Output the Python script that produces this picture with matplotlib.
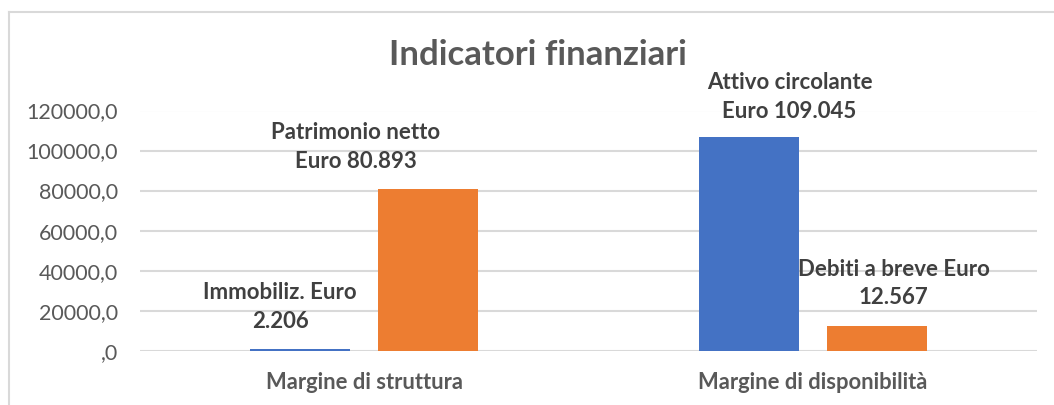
import matplotlib
matplotlib.use('Agg')
import matplotlib.pyplot as plt
from matplotlib.lines import Line2D
from matplotlib.ticker import FuncFormatter
import numpy as np

plt.rcParams['font.family'] = ['Lato', 'DejaVu Sans']

# data
categories = ['Margine di struttura', 'Margine di disponibilità']
serie_blu = [900, 106600]
serie_arancio = [80893, 12567]
etichette_blu = ['Immobiliz. Euro\n2.206', 'Attivo circolante\nEuro 109.045']
etichette_arancio = ['Patrimonio netto\nEuro 80.893', 'Debiti a breve Euro\n12.567']
yticks = [0, 20000, 40000, 60000, 80000, 100000, 120000]

# label offsets (pixels) from the top of each bar
off_blu = [(-20, 42), (41, 40)]
off_arancio = [(-73, 42), (17, 42)]

blu = '#4472C4'
arancio = '#ED7D31'
grigio = '#595959'
scuro = '#404040'

fig = plt.figure(figsize=(10.54, 4.05), dpi=100)
ax = fig.add_axes([140 / 1054, 1 - 350.7 / 405, 897 / 1054, 240.2 / 405])

x = np.arange(len(categories))
w = 0.223
d = 0.143
b1 = ax.bar(x - d, serie_blu, w, color=blu, zorder=2)
b2 = ax.bar(x + d, serie_arancio, w, color=arancio, zorder=2)

for bars, labels, offs in [(b1, etichette_blu, off_blu), (b2, etichette_arancio, off_arancio)]:
    for bar, lab, off in zip(bars, labels, offs):
        ax.annotate(lab, xy=(bar.get_x() + bar.get_width() / 2, bar.get_height()),
                    xytext=off, textcoords='offset pixels', ha='center', va='center',
                    multialignment='center', fontsize=16, fontweight='bold', color=scuro,
                    linespacing=1.45, annotation_clip=False)

ax.set_xlim(-0.5, 1.5)
ax.set_ylim(0, 120000)
ax.set_yticks(yticks)
ax.yaxis.set_major_formatter(FuncFormatter(lambda v, p: ',0' if v == 0 else '%d,0' % v))
ax.set_xticks(x)
ax.set_xticklabels(categories, fontsize=15.8, fontweight='bold', color=grigio)
ax.tick_params(axis='y', length=0, pad=16, labelsize=15.5, labelcolor=grigio)
ax.tick_params(axis='x', length=0, pad=15)
ax.grid(axis='y', color='#D9D9D9', linewidth=1.5, zorder=0)
for s in ax.spines.values():
    s.set_visible(False)

fig.text(538 / 1054, 1 - 55 / 405, 'Indicatori finanziari', ha='center', va='center',
         fontsize=25, fontweight='bold', color=grigio)

# chart area border
fig.add_artist(Line2D([9 / 1054, 1], [1 - 12 / 405, 1 - 12 / 405], color='#D9D9D9', linewidth=1.5))
fig.add_artist(Line2D([9 / 1054, 9 / 1054], [0, 1 - 12 / 405], color='#D9D9D9', linewidth=1.5))

fig.savefig('out.png', dpi=100)
